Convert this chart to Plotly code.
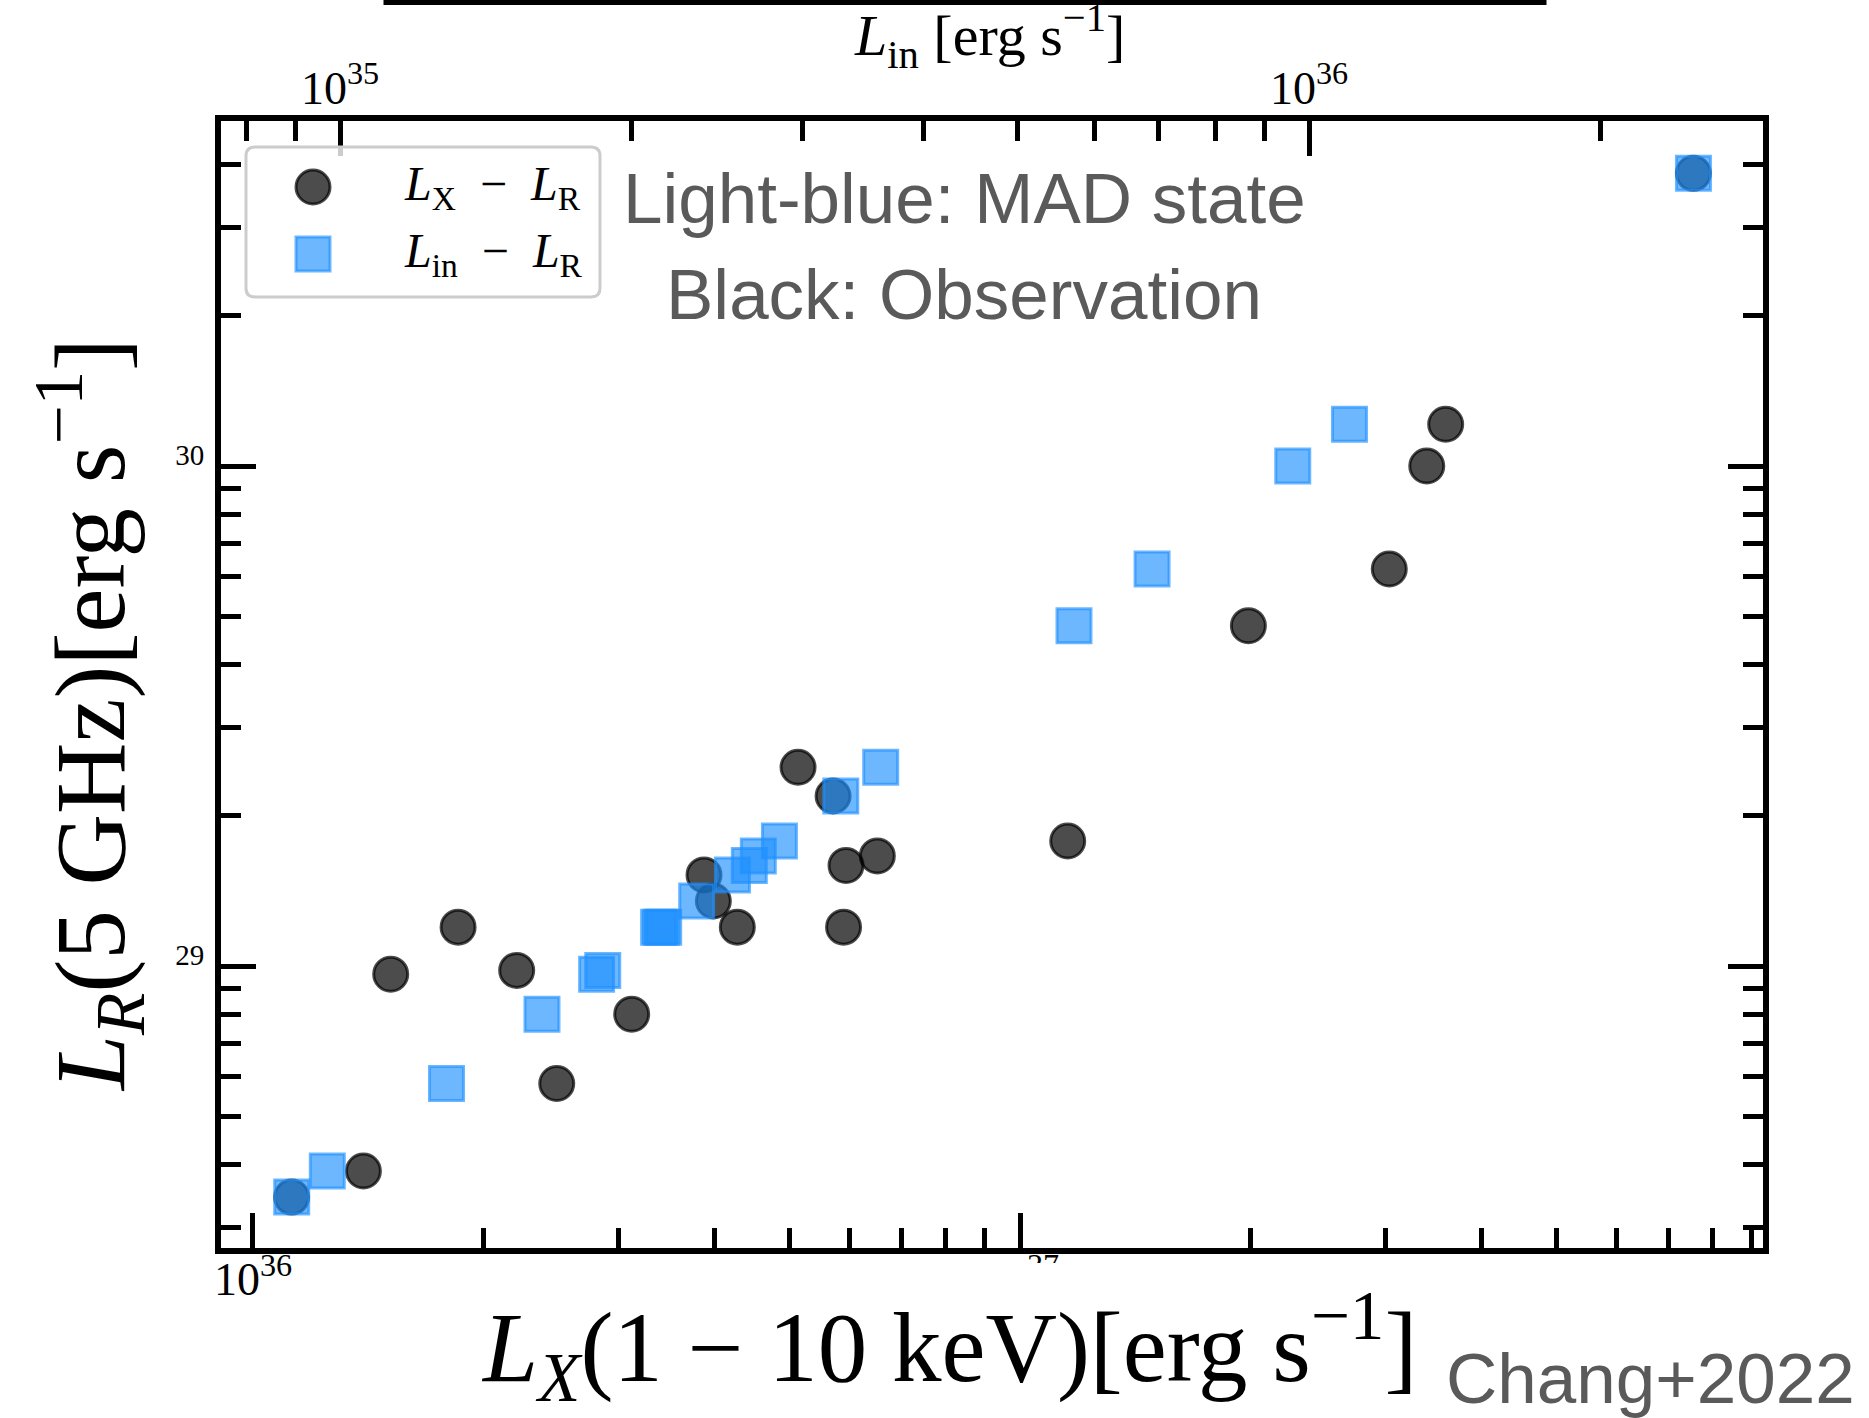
import plotly.graph_objects as go

# Radio luminosity L_R (5 GHz), shared by both relations [erg s^-1]
L_R = [3.45e28, 3.89e28, 5.82e28, 8.01e28, 9.63e28, 9.80e28,
       1.196e29, 1.196e29, 1.196e29, 1.349e29, 1.521e29, 1.589e29,
       1.660e29, 1.778e29, 2.188e29, 2.497e29, 4.793e29, 6.223e29,
       1.00e30, 1.212e30, 3.849e30]
# Observed X-ray luminosity L_X (1-10 keV) [erg s^-1]
L_X = [1.123e36, 1.393e36, 2.489e36, 3.117e36, 1.512e36, 2.207e36,
       1.851e36, 4.280e36, 5.888e36, 3.983e36, 3.873e36, 5.932e36,
       6.516e36, 1.154e37, 5.706e36, 5.136e36, 1.985e37, 3.030e37,
       3.391e37, 3.589e37, 7.550e37]
# MAD-state inflow luminosity L_in [erg s^-1]
L_in = [8.916e34, 9.703e34, 1.288e35, 1.616e35, 1.840e35, 1.867e35,
        2.132e35, 2.145e35, 2.158e35, 2.334e35, 2.541e35, 2.645e35,
        2.702e35, 2.841e35, 3.287e35, 3.614e35, 5.721e35, 6.887e35,
        9.621e35, 1.101e36, 2.493e36]

LX_TICKS = [1e36, 1e37]
LX_TICKTEXT = ["10<sup>36</sup>", "10<sup>37</sup>"]
LIN_TICKS = [1e35, 1e36]
LIN_TICKTEXT = ["10<sup>35</sup>", "10<sup>36</sup>"]
LR_TICKS = [1e29, 1e30]
LR_TICKTEXT = ["29", "30"]

SERIF = "Liberation Serif"
SANS = "Liberation Sans"
NOTE_GREY = "#5a5a5a"

W, H = 1869, 1418
ML, MR, MT, MB = 221, 106, 121, 170
PW = W - ML - MR
PH = H - MT - MB


def fx(x):
    """pixel column -> paper x"""
    return (x - ML) / PW


def fy(y):
    """pixel row -> paper y"""
    return (H - MB - y) / PH


def minor_vals(lo, hi):
    return [m * 10.0 ** e for e in range(lo, hi + 1) for m in range(2, 10)]


CIRCLE_FILL = "rgba(0,0,0,0.7)"
SQUARE_FILL = "rgba(30,144,255,0.65)"

fig = go.Figure()
fig.add_trace(go.Scatter(
    x=L_X, y=L_R, mode="markers", name="L_X - L_R",
    xaxis="x", yaxis="y", showlegend=False,
    marker=dict(symbol="circle", size=34, color=CIRCLE_FILL,
                line=dict(color=CIRCLE_FILL, width=3)),
))
fig.add_trace(go.Scatter(
    x=L_in, y=L_R, mode="markers", name="L_in - L_R",
    xaxis="x2", yaxis="y", showlegend=False,
    marker=dict(symbol="square", size=34, color=SQUARE_FILL,
                line=dict(color=SQUARE_FILL, width=3)),
))

tick_common = dict(
    showline=True, linewidth=6, linecolor="black",
    ticks="inside", ticklen=35, tickwidth=5, tickcolor="black",
    showgrid=False, zeroline=False, type="log", tickmode="array",
    automargin=False,
)
minor_common = dict(ticks="inside", ticklen=20, tickwidth=5,
                    tickcolor="black", showgrid=False)

fig.update_layout(
    width=W, height=H,
    margin=dict(l=ML, r=MR, t=MT, b=MB, pad=0, autoexpand=False),
    paper_bgcolor="white", plot_bgcolor="white",
    showlegend=False,
    xaxis=dict(
        **tick_common,
        range=[35.9583, 37.9687],
        tickvals=LX_TICKS, ticktext=LX_TICKTEXT,
        tickfont=dict(family=SERIF, size=46, color="black"),
        ticklabelstandoff=-14,
        minor=dict(**minor_common, tickvals=minor_vals(35, 37)),
    ),
    xaxis2=dict(
        **tick_common,
        overlaying="x", side="top", anchor="y",
        range=[34.8772, 36.4685],
        tickvals=LIN_TICKS, ticktext=LIN_TICKTEXT,
        tickfont=dict(family=SERIF, size=46, color="black"),
        ticklabelstandoff=-7,
        minor=dict(**minor_common, tickvals=minor_vals(34, 36)),
    ),
    yaxis=dict(
        **tick_common,
        mirror="ticks",
        range=[28.436, 30.69],
        tickvals=LR_TICKS, ticktext=LR_TICKTEXT,
        tickfont=dict(family=SERIF, size=29, color="black"),
        ticklabelstandoff=5,
        ticklabelshift=-11,
        minor=dict(**minor_common, tickvals=minor_vals(28, 30)),
    ),
)

# legend frame with rounded corners
lx0, lx1, ly0, ly1, rad = 246, 600, 147, 297, 9


def pt(x, y):
    return f"{fx(x):.5f},{fy(y):.5f}"


legend_path = (
    f"M {pt(lx0 + rad, ly0)} L {pt(lx1 - rad, ly0)} Q {pt(lx1, ly0)} {pt(lx1, ly0 + rad)} "
    f"L {pt(lx1, ly1 - rad)} Q {pt(lx1, ly1)} {pt(lx1 - rad, ly1)} "
    f"L {pt(lx0 + rad, ly1)} Q {pt(lx0, ly1)} {pt(lx0, ly1 - rad)} "
    f"L {pt(lx0, ly0 + rad)} Q {pt(lx0, ly0)} {pt(lx0 + rad, ly0)} Z"
)

half = 17
shapes = [
    # lower edge of the panel above
    dict(type="rect", xref="paper", yref="paper", layer="above",
         x0=fx(386), x1=fx(1544), y0=fy(2.5), y1=fy(-80),
         line=dict(color="black", width=5), fillcolor="rgba(0,0,0,0)"),
    # blank strip below the bottom axis
    dict(type="rect", xref="paper", yref="paper", layer="above",
         x0=fx(960), x1=fx(1085), y0=fy(1263), y1=fy(1300),
         line=dict(width=0), fillcolor="white"),
    dict(type="path", xref="paper", yref="paper", layer="above", path=legend_path,
         line=dict(color="#cccccc", width=3), fillcolor="rgba(255,255,255,0.8)"),
    dict(type="circle", xref="paper", yref="paper", layer="above",
         x0=fx(313 - half), x1=fx(313 + half), y0=fy(187 + half), y1=fy(187 - half),
         line=dict(color=CIRCLE_FILL, width=3), fillcolor=CIRCLE_FILL),
    dict(type="rect", xref="paper", yref="paper", layer="above",
         x0=fx(313 - half), x1=fx(313 + half), y0=fy(254 + half), y1=fy(254 - half),
         line=dict(color=SQUARE_FILL, width=3), fillcolor=SQUARE_FILL),
]

annotations = [
    # axis titles
    dict(text="<i>L</i><sub>in</sub> [erg s<sup>−1</sup>]",
         x=fx(989), y=fy(36), xanchor="center", yanchor="middle",
         font=dict(family=SERIF, size=58, color="black")),
    dict(text="<i>L</i><sub><i>X</i></sub>(1 − 10 keV)[erg s<sup>−1</sup>]",
         x=fx(949), y=fy(1346), xanchor="center", yanchor="middle",
         font=dict(family=SERIF, size=99, color="black")),
    dict(text="<i>L</i><sub><i>R</i></sub>(5 GHz)[erg s<sup>−1</sup>]",
         x=fx(90), y=fy(715), xanchor="center", yanchor="middle", textangle=-90,
         font=dict(family=SERIF, size=99, color="black")),
    # legend entries
    dict(text="<i>L</i><sub>X</sub>\u2002−\u2002<i>L</i><sub>R</sub>",
         x=fx(402), y=fy(187), xanchor="left", yanchor="middle",
         font=dict(family=SERIF, size=48, color="black")),
    dict(text="<i>L</i><sub>in</sub>\u2002−\u2002<i>L</i><sub>R</sub>",
         x=fx(402), y=fy(254), xanchor="left", yanchor="middle",
         font=dict(family=SERIF, size=48, color="black")),
    # notes
    dict(text="Light-blue: MAD state", x=fx(964), y=fy(199),
         xanchor="center", yanchor="middle",
         font=dict(family=SANS, size=71, color=NOTE_GREY)),
    dict(text="Black: Observation", x=fx(964), y=fy(294),
         xanchor="center", yanchor="middle",
         font=dict(family=SANS, size=71, color=NOTE_GREY)),
    dict(text="Chang+2022", x=fx(1650), y=fy(1378),
         xanchor="center", yanchor="middle",
         font=dict(family=SANS, size=71, color=NOTE_GREY)),
]
for a in annotations:
    a.update(xref="paper", yref="paper", showarrow=False)

fig.update_layout(shapes=shapes, annotations=annotations)

fig.write_html("out.html")
